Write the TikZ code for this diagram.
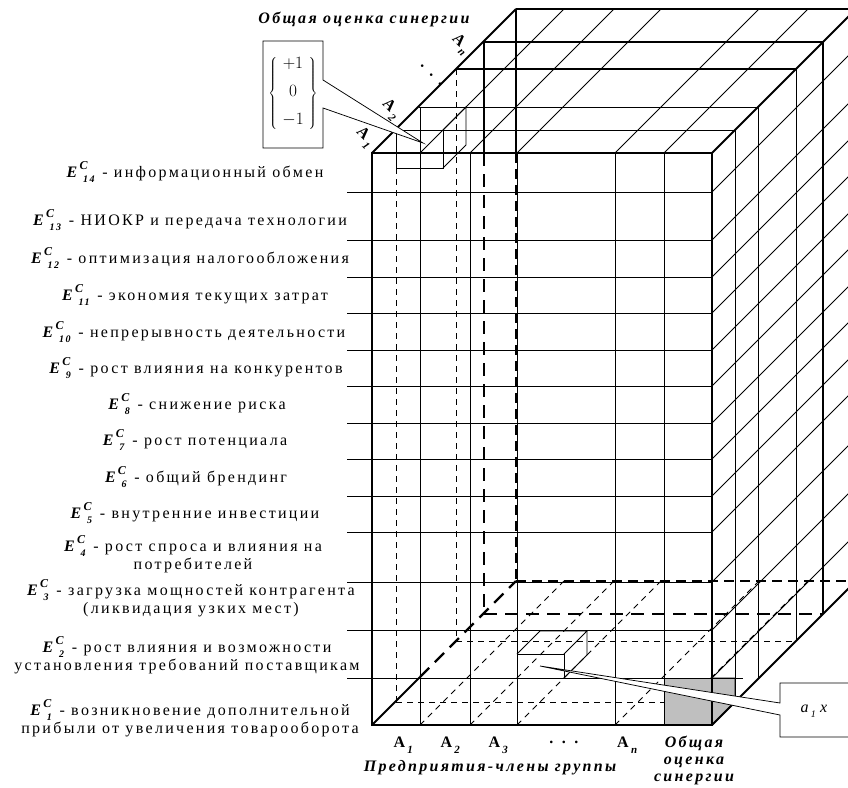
\documentclass[tikz,border=0pt]{standalone}
\usepackage{fontspec}
\setmainfont{Liberation Serif}[LetterSpace=14.5]
\newcommand\EC[1]{\textbf{\textit{E}}\rlap{\raisebox{0.5em}{\fontsize{12}{12}\selectfont\textbf{\textit{C}}}}\hspace{0.22em}\raisebox{-0.35em}{\fontsize{10}{10}\selectfont\textbf{\textit{#1}}}}
\newcommand\Asub[1]{\textbf{A}\raisebox{-0.35em}{\fontsize{11}{11}\selectfont\textbf{\textit{#1}}}}
\tikzset{
  thinl/.style={line width=0.75pt},
  midl/.style={line width=1.1pt},
  heavy/.style={line width=1.8pt},
  hid/.style={line width=0.75pt, dash pattern=on 6pt off 5pt},
  hidmed/.style={line width=1.3pt, dash pattern=on 10pt off 6pt},
  hidheavy/.style={line width=2.2pt, dash pattern=on 13pt off 8pt},
  lab/.style={font=\fontsize{16}{16.5}\selectfont, align=center, inner sep=0pt},
  ital/.style={font=\fontsize{16}{17}\selectfont\bfseries\itshape, align=center, inner sep=0pt},
  callout/.style={thinl, fill=white}
}
\begin{document}
\begin{tikzpicture}[x=1pt,y=-1pt]
\useasboundingbox (0,0) rectangle (848,787);
% ---------- hidden (dashed) parts ----------
\foreach \x in {420,470,517,615,664} \draw[hid] (\x,725) -- ++(144,-144);
\draw[hid] (396,702) -- (736,702);
\draw[hid] (456,641) -- (796,641);
\draw[hidheavy] (484,614) -- (823,614);
\draw[hidmed] (516,581) -- (860,581);
\draw[hid] (396,168) -- (396,702);
\draw[hid] (456,69) -- (456,641);
\draw[heavy] (484,42) -- (484,153);
\draw[hidheavy] (484,153) -- (484,614);
\draw[heavy] (516,9) -- (516,153);
\draw[hidmed] (516,153) -- (516,581);
\draw[heavy] (372,725) -- (420,677);
\draw[hidheavy] (420,677) -- (516,581);
% ---------- gray cell ----------
\filldraw[thinl, fill=black!25] (664,678) rectangle (712,725);
\filldraw[thinl, fill=black!25] (712,678) -- (735,678) -- (735,702) -- (712,725) -- cycle;
% ---------- front face ----------
\foreach \y in {192,240,277,313,350,386,423,459,496,532,582,630} \draw[thinl] (347,\y) -- (712,\y);
\draw[thinl] (347,678) -- (743,678);
\foreach \x in {470,517,615,664} \draw[thinl] (\x,153) -- (\x,725);
\draw[thinl] (420,107) -- (420,725);
% ---------- top face ----------
\foreach \x in {420,470,517,615,664} \draw[thinl] (\x,153) -- ++(144,-144);
\draw[thinl] (396,130) -- (735,130);
\draw[thinl] (419,107) -- (758,107);
\draw[midl] (457,69) -- (796,69);
\draw[heavy] (484,42) -- (823,42);
\draw[heavy] (516,9) -- (860,9);
% ---------- right face ----------
\foreach \y in {192,240,277,313,350,386,423,459,496,532,582,630,678} \draw[thinl] (712,\y) -- ++(144,-144);
\draw[thinl] (735,130) -- (735,702);
\draw[thinl] (758,107) -- (758,679);
\draw[thinl] (796,69) -- (796,641);
\draw[heavy] (823,42) -- (823,614);
% ---------- outer edges ----------
\draw[heavy] (372,153) rectangle (712,725);
\draw[heavy] (372,153) -- (516,9);
\draw[heavy] (712,153) -- (856,9);
\draw[heavy] (712,725) -- (856,581);
% ---------- small cubes ----------
\draw[thinl] (396,130) rectangle (443,168);
\draw[thinl] (443,130) -- (466,107) -- (466,145) -- (443,168);
\draw[thinl] (517,654) rectangle (564,678);
\draw[thinl] (517,654) -- (540,631) -- (587,631) -- (564,654);
\draw[thinl] (587,631) -- (587,655) -- (564,678);
% ---------- callouts ----------
\draw[callout] (263,41) -- (323,41) -- (323,80) -- (423,143) -- (323,108) -- (323,148) -- (263,148) -- cycle;
\node[inner sep=0pt] (vec) at (293,93) {\fontsize{16}{16}\selectfont$\left\{\begin{array}{c}+1\\[12pt]0\\[12pt]-1\end{array}\right\}$};
\draw[callout] (780,683) -- (870,683) -- (870,737) -- (780,737) -- (780,715) -- (540,666) -- (780,703) -- cycle;
\node[lab] (ax) at (815,711) {\textit{a}\raisebox{-0.3em}{\fontsize{10}{10}\selectfont\textit{1}}\,\textit{x}};
% ---------- left labels ----------
\node[lab] (e14) at (195,172) {\EC{14} - информационный обмен};
\node[lab] (e13) at (190,220) {\EC{13} - НИОКР и передача технологии};
\node[lab] (e12) at (190,258) {\EC{12} - оптимизация налогообложения};
\node[lab] (e11) at (195,295) {\EC{11} - экономия текущих затрат};
\node[lab] (e10) at (194,332) {\EC{10} - непрерывность деятельности};
\node[lab] (e9) at (196,368) {\EC{9} - рост влияния на конкурентов};
\node[lab] (e8) at (197,404) {\EC{8} - снижение риска};
\node[lab] (e7) at (195,440) {\EC{7} - рост потенциала};
\node[lab] (e6) at (196,477) {\EC{6} - общий брендинг};
\node[lab] (e5) at (195,513) {\EC{5} - внутренние инвестиции};
\node[lab] (e4) at (193,554) {\EC{4} - рост спроса и влияния на\\потребителей};
\node[lab] (e3) at (191,598) {\EC{3} - загрузка мощностей контрагента\\(ликвидация узких мест)};
\node[lab] (e2) at (187,655) {\EC{2} - рост влияния и возможности\\установления требований поставщикам};
\node[lab] (e1) at (190,718) {\EC{1} - возникновение дополнительной\\прибыли от увеличения товарооборота};
% ---------- bottom labels ----------
\node[lab] (a1) at (404,745) {\Asub{1}};
\node[lab] (a2) at (451,745) {\Asub{2}};
\node[lab] (a3) at (499,745) {\Asub{3}};
\node[lab] (adots) at (565,742) {\textbf{. . .}};
\node[lab] (an) at (628,745) {\Asub{n}};
\node[ital] (tot) at (694,760) {Общая\\оценка\\синергии};
\node[ital] (pred) at (490,768) {Предприятия-члены группы};
% ---------- top labels ----------
\node[ital] (ttot) at (364,19) {Общая оценка синергии};
\node[lab, rotate=-45] (t1) at (365,138) {\Asub{1}};
\node[lab, rotate=-45] (t2) at (391,110) {\Asub{2}};
\node[lab, rotate=-45] (tdots) at (432,76) {\textbf{. . .}};
\node[lab, rotate=-45] (tn) at (461,45) {\Asub{n}};
\end{tikzpicture}
\end{document}
